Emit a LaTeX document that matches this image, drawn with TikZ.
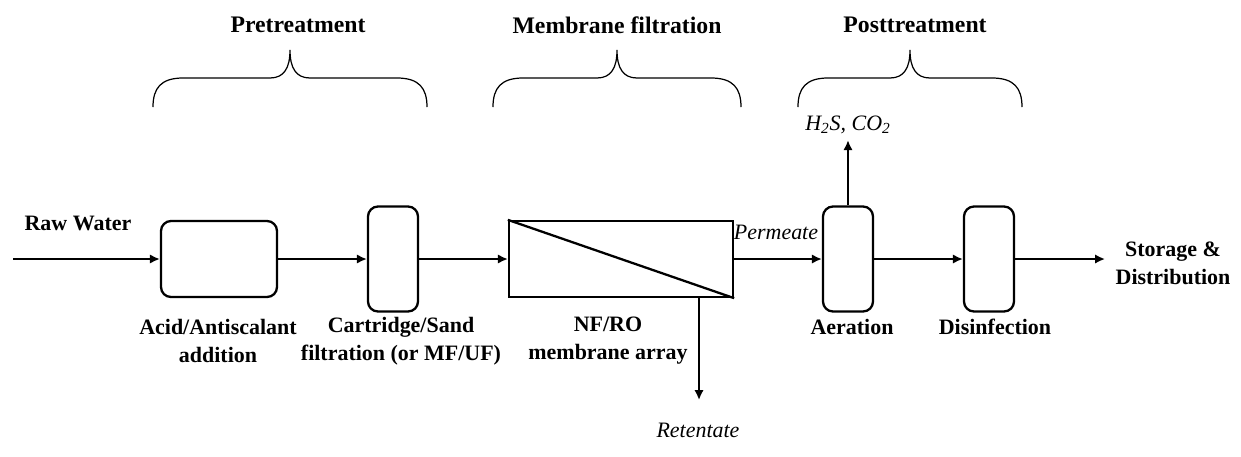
\documentclass[tikz,border=0pt]{standalone}
\usepackage{fontspec}
\setmainfont{Liberation Serif}
\usetikzlibrary{arrows.meta,positioning}

% curly brace over one treatment stage: left x, right x, tip x
\newcommand{\phasebrace}[3]{%
  \draw[bracepath] (#1,107) .. controls (#1,88) and ({#1+8},78) .. ({#1+30},78)
    -- ({#3-20},78) .. controls ({#3-6},78) and (#3,68) .. (#3,50)
    .. controls (#3,68) and ({#3+6},78) .. ({#3+20},78)
    -- ({#2-30},78) .. controls ({#2-8},78) and (#2,88) .. (#2,107);}

\begin{document}
\begin{tikzpicture}[x=0.2mm, y=-0.2mm,
    unit/.style={draw, line width=1.3pt, rounded corners=2mm},
    tallunit/.style={unit, minimum width=10mm, minimum height=21mm},
    lbl/.style={font=\fontsize{12.5}{16}\selectfont\bfseries, align=center},
    ttl/.style={font=\fontsize{13.5}{16}\selectfont\bfseries},
    tag/.style={font=\fontsize{12.5}{15}\selectfont\itshape},
    flow/.style={line width=1.2pt, -{Latex[length=2mm,width=1.9mm]}},
    bracepath/.style={line width=0.7pt}]

  \useasboundingbox (0,0) rectangle (1241,456);

  % Stages
  \node[ttl] (pre) at (298,25) {Pretreatment};
  \node[ttl] (mem) at (617,25) {Membrane filtration};
  \node[ttl] (post) at (915,25) {Posttreatment};
  \phasebrace{153}{427}{290}
  \phasebrace{493}{741}{617}
  \phasebrace{798}{1022}{910}

  % Units
  \node[unit, minimum width=23.2mm, minimum height=15.2mm] (acid) at (219,259) {};
  \node[tallunit] (cart) at (393,259) {};
  \node[draw, line width=1.3pt, minimum width=44.8mm, minimum height=15.2mm] (membrane) at (621,259) {};
  \draw[line width=1.3pt] (membrane.north west) -- (membrane.south east);
  \node[tallunit] (aer) at (848,259) {};
  \node[tallunit] (dis) at (989,259) {};

  % Labels
  \node[lbl] (raw) at (78,223) {Raw Water};
  \node[lbl] (acidlbl) at (218,341) {Acid/Antiscalant\\addition};
  \node[lbl] (cartlbl) at (401,341) {Cartridge/Sand\\filtration (or MF/UF)};
  \node[lbl] (memlbl) at (608,341) {NF/RO\\membrane array};
  \node[lbl] (aerlbl) at (852,327) {Aeration};
  \node[lbl] (dislbl) at (995,327) {Disinfection};
  \node[lbl] (store) at (1173,263) {Storage \&\\Distribution};
  \node[tag] (perm) at (776,232) {Permeate};
  \node[tag] (gas) at (848,125) {H\textsubscript{2}S, CO\textsubscript{2}};
  \node[tag] (retent) at (698,430) {Retentate};

  % Flows
  \coordinate (rawin) at (13,259);
  \coordinate (storein) at (1105,259);
  \coordinate (retout) at (699,400);
  \draw[flow] (rawin) -- (acid);
  \draw[flow] (acid) -- (cart);
  \draw[flow] (cart) -- (membrane);
  \draw[flow] (membrane) -- (aer);
  \draw[flow] (aer) -- (dis);
  \draw[flow] (dis) -- (storein);
  \draw[flow] (aer) -- (gas);
  \draw[flow] (membrane.south -| retout) -- (retout);

\end{tikzpicture}
\end{document}
